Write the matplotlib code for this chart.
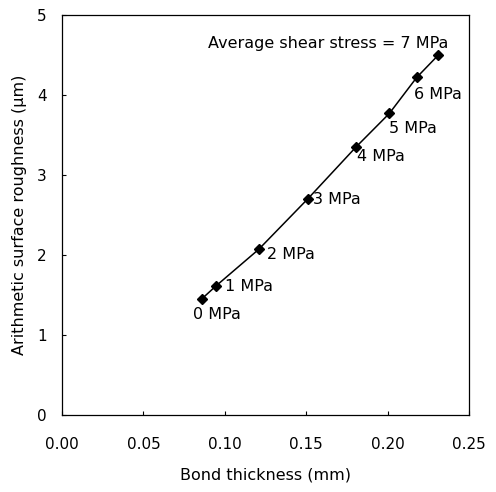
import matplotlib.pyplot as plt

# data
stress_labels = ["0 MPa", "1 MPa", "2 MPa", "3 MPa", "4 MPa", "5 MPa", "6 MPa"]
thickness = [0.0858, 0.0944, 0.1208, 0.1509, 0.1806, 0.2011, 0.2179, 0.2312]
roughness = [1.45, 1.61, 2.07, 2.70, 3.35, 3.77, 4.22, 4.50]

# label offsets (points) from each marker
offsets = [(-6, -11), (7, 0), (6, -4), (4, 0), (1, -7), (0, -11), (-2, -12)]

plt.rcParams["font.family"] = ["DejaVu Sans"]

fig = plt.figure(figsize=(4.96, 4.92), dpi=100)
ax = fig.add_axes([62 / 496, 1 - 415 / 492, 407 / 496, 400 / 492])

ax.plot(thickness, roughness, color="black", lw=1.1)
ax.plot(thickness, roughness, "D", color="black", ms=5)

for i, lab in enumerate(stress_labels):
    ax.annotate(lab, (thickness[i], roughness[i]), xytext=offsets[i],
                textcoords="offset points", ha="left", va="center", fontsize=11.5)

ax.annotate("Average shear stress = 7 MPa", (thickness[-1], roughness[-1]),
            xytext=(7, 8), textcoords="offset points", ha="right", va="center",
            fontsize=11.5)

ax.set_xlim(0, 0.25)
ax.set_ylim(0, 5)
ax.set_xticks([0.0, 0.05, 0.10, 0.15, 0.20, 0.25])
ax.set_xticklabels(["0.00", "0.05", "0.10", "0.15", "0.20", "0.25"])
ax.set_yticks([0, 1, 2, 3, 4, 5])
ax.tick_params(direction="in", length=3, labelsize=11)
ax.tick_params(axis="x", pad=16)
ax.tick_params(axis="y", pad=11)
for s in ax.spines.values():
    s.set_linewidth(0.9)

ax.set_xlabel("Bond thickness (mm)", fontsize=11.5, labelpad=11)
ax.set_ylabel("Arithmetic surface roughness (\u03bcm)", fontsize=11.5, labelpad=7)

fig.savefig("out.png", dpi=100)
